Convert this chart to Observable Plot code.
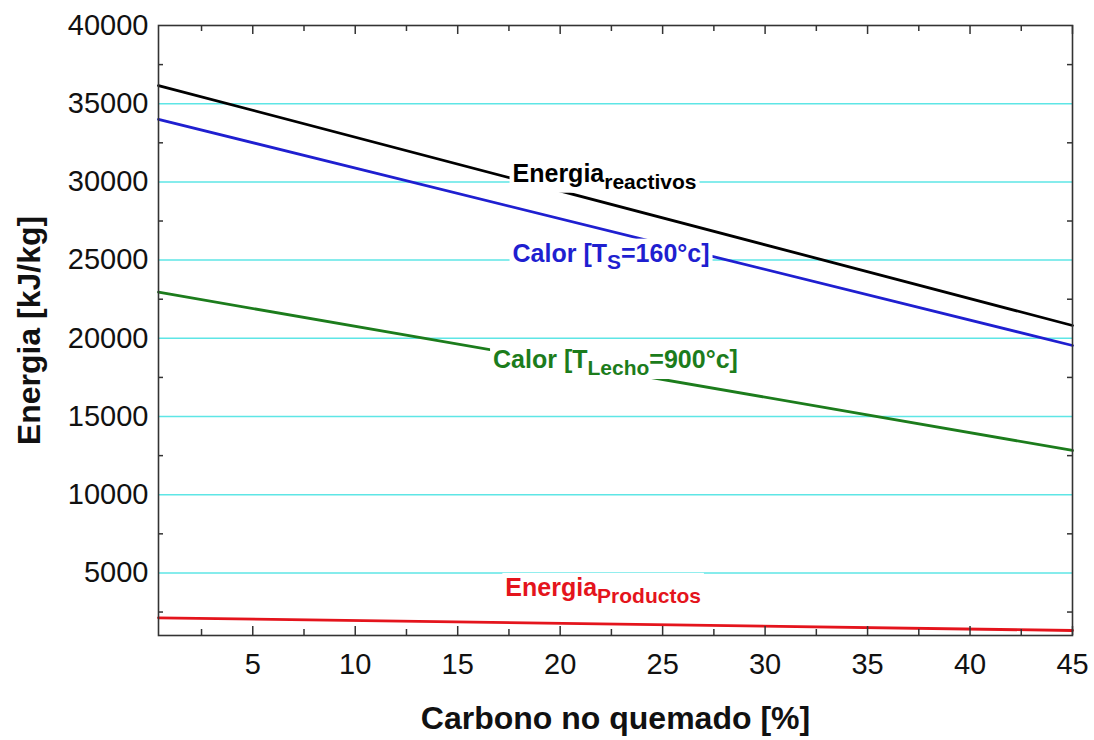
<!DOCTYPE html>
<html>
<head>
<meta charset="utf-8">
<script src="https://cdn.jsdelivr.net/npm/d3@7"></script>
<script src="https://cdn.jsdelivr.net/npm/@observablehq/plot@0.6"></script>
<style>
  html, body { margin: 0; padding: 0; background: #fff; }
  svg { display: block; }
</style>
</head>
<body>
<div id="chart"></div>
<script>
// ---- data ----
const carbono = [0.4, 45];                      // Carbono no quemado [%]
const energiaReactivos = [36160, 20820];         // kJ/kg
const calorTs160 = [34000, 19540];
const calorLecho900 = [22950, 12830];
const energiaProductos = [2130, 1320];

const xMajor = [5, 10, 15, 20, 25, 30, 35, 40, 45];
const xMinor = [2.5, 7.5, 12.5, 17.5, 22.5, 27.5, 32.5, 37.5, 42.5];
const yMajor = [5000, 10000, 15000, 20000, 25000, 30000, 35000, 40000];
const yMinor = [2500, 7500, 12500, 17500, 22500, 27500, 32500, 37500];
const gridVals = [5000, 10000, 15000, 20000, 25000, 30000, 35000];

const seriesNames = ["reactivos", "Ts", "Lecho", "Productos"];
const seriesValues = [energiaReactivos, calorTs160, calorLecho900, energiaProductos];
const seriesColors = ["#000000", "#1f1fd0", "#1c7c1c", "#e4141c"];

// label anchors (data coords) and texts
const labelX = [17.7, 17.7, 16.75, 17.35];
const labelY = [29980, 24870, 18070, 3500];
const labelParts = [
  [["Energia", false], ["reactivos", true]],
  [["Calor [T", false], ["S", true], ["=160°c]", false]],
  [["Calor [T", false], ["Lecho", true], ["=900°c]", false]],
  [["Energia", false], ["Productos", true]]
];

const rows = [];
seriesNames.forEach((s, i) => carbono.forEach((c, j) => rows.push({serie: s, x: c, y: seriesValues[i][j]})));

const font = "'Liberation Sans', Arial, Helvetica, sans-serif";
const W = 1094, H = 740, ML = 158, MR = 22, MT = 25, MB = 105;
const innerW = W - ML - MR, innerH = H - MT - MB;
const tickStyle = {stroke: "#333", strokeWidth: 1.5};

const plot = Plot.plot({
  width: W,
  height: H,
  marginLeft: ML,
  marginRight: MR,
  marginTop: MT,
  marginBottom: MB,
  style: {fontFamily: font, background: "#fff", color: "#111"},
  x: {domain: [0.4, 45]},
  y: {domain: [1000, 40000]},
  marks: [
    Plot.ruleY(gridVals, {stroke: "#5ee6e6", strokeWidth: 1.5}),
    Plot.line(rows, {x: "x", y: "y", z: "serie", stroke: d => seriesColors[seriesNames.indexOf(d.serie)], strokeWidth: 2.8}),
    // tick labels
    Plot.axisX(xMajor, {anchor: "bottom", tickSize: 0, tickPadding: 18, fontSize: 29, label: null, tickFormat: d => String(d)}),
    Plot.axisY(yMajor, {anchor: "left", tickSize: 0, tickPadding: 10, fontSize: 29, label: null, tickFormat: d => String(d)}),
    // inward ticks
    Plot.tickX(xMajor, {x: d => d, insetTop: innerH - 9, ...tickStyle}),
    Plot.tickX(xMinor, {x: d => d, insetTop: innerH - 6, ...tickStyle}),
    Plot.tickX(xMajor, {x: d => d, insetBottom: innerH - 9, ...tickStyle}),
    Plot.tickX(xMinor, {x: d => d, insetBottom: innerH - 6, ...tickStyle}),
    Plot.tickY(yMinor, {y: d => d, insetRight: innerW - 5, ...tickStyle}),
    Plot.tickY(yMinor, {y: d => d, insetLeft: innerW - 5, ...tickStyle}),
    Plot.frame({stroke: "#333", strokeWidth: 1.6}),
    // axis titles
    Plot.text(["Carbono no quemado [%]"], {frameAnchor: "bottom", lineAnchor: "middle", textAnchor: "middle", dy: 83, fontSize: 32, fontWeight: "bold", fill: "#111", letterSpacing: 0.6}),
    Plot.text(["Energia [kJ/kg]"], {frameAnchor: "left", lineAnchor: "middle", textAnchor: "middle", dx: -129, rotate: -90, fontSize: 32, fontWeight: "bold", fill: "#111", letterSpacing: 0.6})
  ]
});

document.getElementById("chart").appendChild(plot);

// series labels with subscripts, positioned through Plot's scales
const ns = "http://www.w3.org/2000/svg";
const xs = plot.scale("x"), ys = plot.scale("y");
const g = document.createElementNS(ns, "g");
plot.appendChild(g);
labelParts.forEach((parts, i) => {
  const t = document.createElementNS(ns, "text");
  t.setAttribute("x", xs.apply(labelX[i]));
  t.setAttribute("y", ys.apply(labelY[i]));
  t.setAttribute("fill", seriesColors[i]);
  t.setAttribute("text-anchor", "start");
  t.setAttribute("font-family", font);
  t.setAttribute("font-weight", "bold");
  t.setAttribute("font-size", 25);
  let sub = false;
  parts.forEach(([txt, isSub]) => {
    const s = document.createElementNS(ns, "tspan");
    s.textContent = txt;
    s.setAttribute("font-size", isSub ? 21 : 25);
    if (isSub !== sub) s.setAttribute("dy", isSub ? 7 : -7);
    sub = isSub;
    t.appendChild(s);
  });
  g.appendChild(t);
  const b = t.getBBox();
  const r = document.createElementNS(ns, "rect");
  r.setAttribute("x", b.x - 3);
  r.setAttribute("y", b.y);
  r.setAttribute("width", b.width + 6);
  r.setAttribute("height", b.height);
  r.setAttribute("fill", "#fff");
  g.insertBefore(r, t);
});
</script>
</body>
</html>
